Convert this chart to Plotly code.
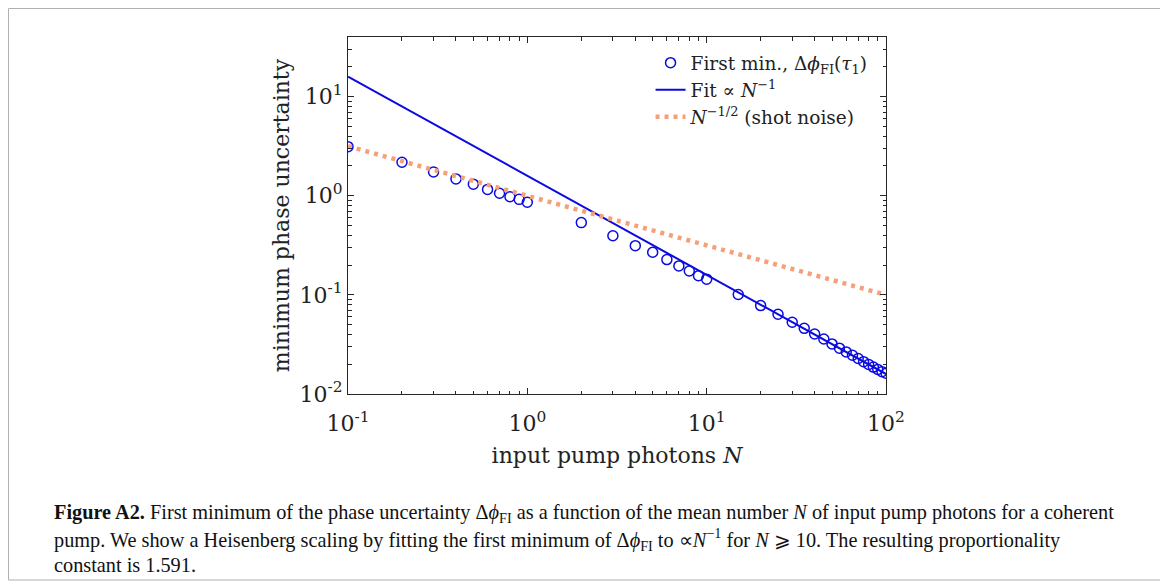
import plotly.graph_objects as go

# data
n_points = [0.1, 0.2, 0.3, 0.4, 0.5, 0.6, 0.7, 0.8, 0.9, 1.0,
            2, 3, 4, 5, 6, 7, 8, 9, 10,
            15, 20, 25, 30, 35, 40, 45, 50, 55, 60, 65, 70, 75, 80, 85, 90, 95, 100]
first_min = [3.13, 2.18, 1.74, 1.48, 1.31, 1.16, 1.06, 0.98, 0.92, 0.86,
             0.536, 0.395, 0.314, 0.269, 0.227, 0.196, 0.174, 0.156, 0.144,
             0.101, 0.078, 0.0637, 0.0529, 0.046, 0.0403, 0.0359, 0.032, 0.029,
             0.0266, 0.0246, 0.0228, 0.0212, 0.0199, 0.0187, 0.0177, 0.0168, 0.0162]

fit_n = [0.1, 100]
fit_vals = [15.91, 0.01591]      # 1.591 / N

shot_n = [0.1, 100]
shot_vals = [3.162, 0.1]         # N^-1/2

x_ticks = [0.1, 1, 10, 100]
x_ticktext = ["10<sup>-1</sup>", "10<sup>0</sup>", "10<sup>1</sup>", "10<sup>2</sup>"]
y_ticks = [0.01, 0.1, 1, 10]
y_ticktext = ["10<sup>-2</sup>", "10<sup>-1</sup>", "10<sup>0</sup>", "10<sup>1</sup>"]

BLUE = "rgb(10,10,225)"
ORANGE = "rgb(246,160,122)"
SERIF = "DejaVu Serif, Liberation Serif, serif"
CAPTION_FONT = "Liberation Serif, serif"

# page body has an 8px margin, so the figure is laid out in its own coords
W, H = 1160, 579
L, R, T, B = 340, 282, 29, 193
PW, PH = W - L - R, H - T - B


def px(x):
    return (x - L) / PW


def py(y):
    return (H - B - y) / PH


fig = go.Figure()

fig.add_trace(go.Scatter(
    x=n_points, y=first_min, mode="markers",
    name="First min., Δ<i>ϕ</i><sub>FI</sub>(<i>τ</i><sub>1</sub>)",
    marker=dict(symbol="circle-open", size=10, color=BLUE, line=dict(width=1.5, color=BLUE)),
))
fig.add_trace(go.Scatter(
    x=fit_n, y=fit_vals, mode="lines",
    name="Fit ∝ <i>N</i><sup>−1</sup>",
    line=dict(color=BLUE, width=2),
))
fig.add_trace(go.Scatter(
    x=shot_n, y=shot_vals, mode="lines",
    name="<i>N</i><sup>−1/2</sup> (shot noise)",
    line=dict(color=ORANGE, width=4.5, dash="4px,5px"),
))

axis_common = dict(
    type="log", showgrid=False, zeroline=False,
    showline=True, linecolor="#262626", linewidth=1, mirror="allticks",
    ticks="inside", ticklen=6, tickcolor="#262626", tickwidth=1,
    minor=dict(ticks="inside", ticklen=3.5, tickcolor="#262626", dtick="D1", showgrid=False),
    tickfont=dict(family=SERIF, size=22, color="#222"),
)

fig.update_xaxes(
    **axis_common, range=[-1, 2], tickvals=x_ticks, ticktext=x_ticktext,
    ticklabelstandoff=10,
    title=dict(text="input pump photons <i>N</i>", font=dict(family=SERIF, size=22, color="#222"), standoff=12),
)
fig.update_yaxes(
    **axis_common, range=[-2, 1.602], tickvals=y_ticks, ticktext=y_ticktext,
    title=dict(text="minimum phase uncertainty", font=dict(family=SERIF, size=22, color="#222"), standoff=3),
)

# outer frame of the figure panel
fig.add_shape(type="rect", xref="paper", yref="paper",
              x0=px(0.5), x1=px(1153), y0=py(572), y1=py(0.5),
              line=dict(color="#b0b0b0", width=1))

caption = [
    "<b>Figure A2.</b> First minimum of the phase uncertainty Δ<i>ϕ</i><sub>FI</sub> as a function of the mean number <i>N</i> of input pump photons for a coherent",
    "pump. We show a Heisenberg scaling by fitting the first minimum of Δ<i>ϕ</i><sub>FI</sub> to ∝<i>N</i><sup>−1</sup> for <i>N</i> ⩾ 10. The resulting proportionality",
    "constant is 1.591.",
]
for i, line in enumerate(caption):
    fig.add_annotation(text=line, xref="paper", yref="paper",
                       x=px(44), y=py(505 + 26 * i),
                       xanchor="left", yanchor="middle", showarrow=False,
                       font=dict(family=CAPTION_FONT, size=20.3, color="#111"))

fig.update_layout(
    width=W, height=H,
    margin=dict(l=L, r=R, t=T, b=B),
    paper_bgcolor="white", plot_bgcolor="white",
    showlegend=True,
    legend=dict(x=0.975, y=0.98, xanchor="right", yanchor="top",
                bgcolor="white", borderwidth=0, tracegroupgap=0,
                font=dict(family=SERIF, size=18.5, color="#222")),
)

fig.write_html("out.html")
